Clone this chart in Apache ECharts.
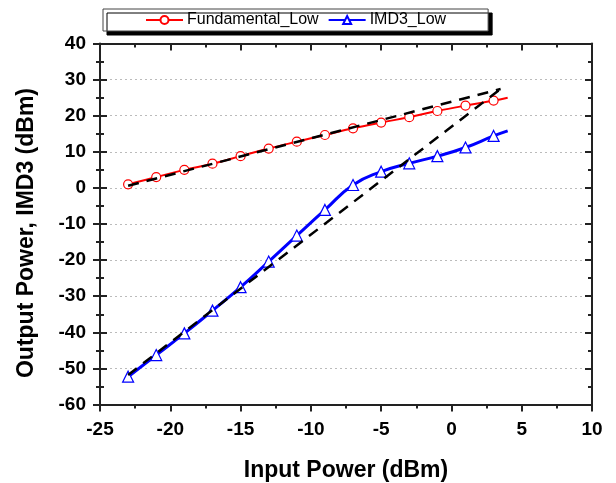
<!DOCTYPE html>
<html>
<head>
<meta charset="utf-8">
<script src="https://cdn.jsdelivr.net/npm/echarts@6/dist/echarts.min.js"></script>
<style>
html,body{margin:0;padding:0;background:#fff;}
#chart{width:616px;height:483px;}
</style>
</head>
<body>
<div id="chart"></div>
<script>
// Input power (dBm) for the measured points
var inputPower = [-23, -21, -19, -17, -15, -13, -11, -9, -7, -5, -3, -1, 1, 3];
var lineEndX = 4.0;
// Fundamental_Low output power (dBm)
var fundamental = [1.0, 3.0, 5.0, 6.7, 8.8, 10.9, 12.8, 14.65, 16.5, 18.1, 19.6, 21.3, 22.8, 24.2];
var fundamentalEnd = 25.0;
// IMD3_Low (dBm)
var imd3 = [-52.3, -46.3, -40.3, -34.0, -27.5, -20.4, -13.2, -6.1, 0.8, 4.5, 6.8, 8.8, 11.2, 14.4];
var imd3End = 15.8;
// Extrapolated (dashed) fit lines: [x, y] end points
var fundFit = [[-23, 0.6], [3.5, 27.4]];
var imd3Fit = [[-23, -51.8], [3.5, 27.4]];
// Axis settings
var xMin = -25, xMax = 10, xStep = 5;
var yMin = -60, yMax = 40, yStep = 10;

var FONT = 'Liberation Sans, Arial, sans-serif';
var RED = '#ff0000', BLUE = '#0000ff', AXIS = '#222';

function buildData(xs, ys, endX, endY) {
  var d = xs.map(function (x, i) { return [x, ys[i]]; });
  d.push({ value: [endX, endY], symbol: 'none' });
  return d;
}

var chart = echarts.init(document.getElementById('chart'), null, { renderer: 'canvas' });

var axisLineStyle = { show: true, onZero: false, lineStyle: { color: AXIS, width: 2 } };
var noLine = { show: false, onZero: false };

var option = {
  animation: false,
  backgroundColor: '#fff',
  grid: { left: 100, right: 24, top: 43.5, bottom: 78.5, containLabel: false, outerBoundsMode: 'none' },
  legend: {
    data: ['Fundamental_Low', 'IMD3_Low'],
    left: 103, top: 9,
    padding: [3, 42, 3, 42],
    itemGap: 9,
    itemWidth: 37, itemHeight: 10,
    backgroundColor: '#fff',
    borderColor: '#444', borderWidth: 1,
    shadowColor: '#000', shadowBlur: 0, shadowOffsetX: 4, shadowOffsetY: 4,
    textStyle: { fontFamily: FONT, fontSize: 16, color: '#000', padding: [0, 0, 0, -1] }
  },
  xAxis: [
    {
      type: 'value', position: 'bottom', min: xMin, max: xMax, interval: xStep,
      name: 'Input Power (dBm)', nameLocation: 'middle', nameGap: 55,
      nameTextStyle: { fontFamily: FONT, fontSize: 23, fontWeight: 'bold', color: '#000' },
      axisLine: axisLineStyle,
      axisTick: { show: true, inside: false, length: 7, lineStyle: { color: AXIS, width: 2 } },
      minorTick: { show: true, splitNumber: 2, length: 4, lineStyle: { color: AXIS, width: 2 } },
      axisLabel: { margin: 16, fontFamily: FONT, fontSize: 19, fontWeight: 'bold', color: '#000' },
      splitLine: { show: false }
    },
    {
      type: 'value', position: 'top', min: xMin, max: xMax, interval: xStep,
      axisLine: axisLineStyle,
      axisTick: { show: true, inside: true, length: 7, lineStyle: { color: AXIS, width: 2 } },
      minorTick: { show: true, splitNumber: 2, length: 4, lineStyle: { color: AXIS, width: 2 } },
      axisLabel: { show: false }, splitLine: { show: false }
    }
  ],
  yAxis: [
    {
      type: 'value', position: 'left', min: yMin, max: yMax, interval: yStep,
      name: 'Output Power, IMD3 (dBm)', nameLocation: 'middle', nameGap: 62,
      nameTextStyle: { fontFamily: FONT, fontSize: 23, fontWeight: 'bold', color: '#000', padding: [0, 18, 0, 0] },
      axisLine: axisLineStyle,
      axisTick: { show: true, inside: false, length: 7, lineStyle: { color: AXIS, width: 2 } },
      minorTick: { show: true, splitNumber: 2, length: 4, lineStyle: { color: AXIS, width: 2 } },
      axisLabel: { margin: 14, fontFamily: FONT, fontSize: 19, fontWeight: 'bold', color: '#000' },
      splitLine: { show: true, lineStyle: { color: '#bbb', width: 1, type: [2, 3] } }
    },
    {
      type: 'value', position: 'left', min: yMin, max: yMax, interval: yStep,
      axisLine: noLine,
      axisTick: { show: true, inside: true, length: 7, lineStyle: { color: AXIS, width: 2 } },
      minorTick: { show: true, splitNumber: 2, length: 4, lineStyle: { color: AXIS, width: 2 } },
      axisLabel: { show: false }, splitLine: { show: false }
    },
    {
      type: 'value', position: 'right', min: yMin, max: yMax, interval: yStep,
      axisLine: axisLineStyle,
      axisTick: { show: true, inside: true, length: 7, lineStyle: { color: AXIS, width: 2 } },
      minorTick: { show: true, splitNumber: 2, length: 4, lineStyle: { color: AXIS, width: 2 } },
      axisLabel: { show: false }, splitLine: { show: false }
    }
  ],
  series: [
    {
      name: 'Fundamental_Low', type: 'line', smooth: 0.4,
      data: buildData(inputPower, fundamental, lineEndX, fundamentalEnd),
      symbol: 'circle', symbolSize: 9,
      color: RED,
      lineStyle: { color: RED, width: 2 },
      itemStyle: { color: '#fff', borderColor: RED, borderWidth: 1.2 },
      z: 3
    },
    {
      name: 'IMD3_Low', type: 'line', smooth: 0.5,
      data: buildData(inputPower, imd3, lineEndX, imd3End),
      symbol: 'triangle', symbolSize: 11,
      color: BLUE,
      lineStyle: { color: BLUE, width: 3 },
      itemStyle: { color: '#fff', borderColor: BLUE, borderWidth: 1.2 },
      z: 3
    },
    {
      name: 'fundFit', type: 'line', data: fundFit, symbol: 'none', silent: true,
      lineStyle: { color: '#000', width: 2.5, type: [11, 8] }, z: 5
    },
    {
      name: 'imd3Fit', type: 'line', data: imd3Fit, symbol: 'none', silent: true,
      lineStyle: { color: '#000', width: 2.5, type: [11, 8] }, z: 5
    }
  ]
};
chart.setOption(option);
</script>
</body>
</html>
